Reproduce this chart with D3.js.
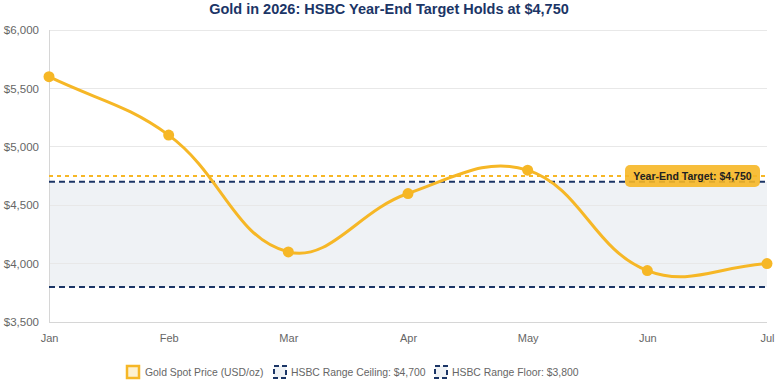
<!DOCTYPE html>
<html><head><meta charset="utf-8">
<script src="https://cdn.jsdelivr.net/npm/d3@7/dist/d3.min.js"></script>
<style>
html,body{margin:0;padding:0;background:#fff;}
svg{display:block;font-family:"Liberation Sans",Arial,Helvetica,sans-serif;}
</style></head>
<body><svg id="c" width="778" height="389"></svg>
<script>
const months = ["Jan","Feb","Mar","Apr","May","Jun","Jul"];
const goldPrice = [5600, 5100, 4100, 4600, 4800, 3940, 4000];
const rangeCeiling = 4700;
const rangeFloor = 3800;
const yearEndTarget = 4750;
const yTicks = [3500, 4000, 4500, 5000, 5500, 6000];
const titleText = "Gold in 2026: HSBC Year-End Target Holds at $4,750";
const targetLabel = "Year-End Target: $4,750";
const legendLabels = ["Gold Spot Price (USD/oz)", "HSBC Range Ceiling: $4,700", "HSBC Range Floor: $3,800"];

const W = 778, H = 389;
const m = {l: 49, r: 11, t: 30, b: 67};
const gold = "#f6b726", navy = "#1b3566";
const svg = d3.select("#c");
const x = d3.scalePoint().domain(months).range([m.l, W - m.r]);
const y = d3.scaleLinear().domain([3500, 6000]).range([H - m.b, m.t]);
const fmt = d3.format("$,");

// title
svg.append("text").attr("x", W/2).attr("y", 13.5).attr("text-anchor","middle")
  .attr("font-size", 14.5).attr("font-weight","bold").attr("fill", navy).text(titleText);

// band
svg.append("rect").attr("x", m.l).attr("width", W - m.r - m.l)
  .attr("y", y(rangeCeiling)).attr("height", y(rangeFloor) - y(rangeCeiling))
  .attr("fill", "#eff2f5");

// grid
svg.append("g").selectAll("line").data(yTicks).join("line")
  .attr("x1", m.l).attr("x2", W - m.r).attr("y1", d => y(d)).attr("y2", d => y(d))
  .attr("stroke", d => d === 3500 ? "#d6d6d6" : "#e8e8e8").attr("stroke-width", 1)
  .attr("shape-rendering","crispEdges");
svg.append("line").attr("x1", m.l).attr("x2", m.l).attr("y1", m.t).attr("y2", H - m.b)
  .attr("stroke", "#d6d6d6").attr("shape-rendering","crispEdges");

// axes
const yAxis = d3.axisLeft(y).tickValues(yTicks).tickFormat(fmt).tickSize(0).tickPadding(10);
const gy = svg.append("g").attr("transform", `translate(${m.l},0)`).call(yAxis);
gy.select(".domain").remove();
gy.selectAll("text").attr("font-size", 11.5).attr("fill", "#666").attr("font-family","Liberation Sans, Arial, sans-serif");
const xAxis = d3.axisBottom(x).tickSize(0).tickPadding(12);
const gx = svg.append("g").attr("transform", `translate(0,${H - m.b})`).call(xAxis);
gx.select(".domain").remove();
gx.selectAll("text").attr("font-size", 11).attr("fill", "#666").attr("font-family","Liberation Sans, Arial, sans-serif");

// ref lines
svg.append("line").attr("x1", m.l).attr("x2", W - m.r).attr("y1", y(rangeCeiling)).attr("y2", y(rangeCeiling))
  .attr("stroke", navy).attr("stroke-width", 2).attr("stroke-dasharray", "6,4");
svg.append("line").attr("x1", m.l).attr("x2", W - m.r).attr("y1", y(rangeFloor)).attr("y2", y(rangeFloor))
  .attr("stroke", navy).attr("stroke-width", 2).attr("stroke-dasharray", "6,4");
svg.append("line").attr("x1", m.l).attr("x2", W - m.r).attr("y1", y(yearEndTarget)).attr("y2", y(yearEndTarget))
  .attr("stroke", gold).attr("stroke-width", 2).attr("stroke-dasharray", "4,4");

// Chart.js-like spline (tension 0.4)
const pts = goldPrice.map((v, i) => [x(months[i]), y(v)]);
function splinePath(p, t) {
  const cps = p.map((cur, i) => {
    const prev = p[i-1] || cur, next = p[i+1] || cur;
    const d01 = Math.hypot(cur[0]-prev[0], cur[1]-prev[1]);
    const d12 = Math.hypot(next[0]-cur[0], next[1]-cur[1]);
    let s01 = d01/(d01+d12), s12 = d12/(d01+d12);
    if (isNaN(s01)) s01 = 0; if (isNaN(s12)) s12 = 0;
    const fa = t*s01, fb = t*s12;
    return {
      prev: [cur[0] - fa*(next[0]-prev[0]), cur[1] - fa*(next[1]-prev[1])],
      next: [cur[0] + fb*(next[0]-prev[0]), cur[1] + fb*(next[1]-prev[1])]
    };
  });
  const path = d3.path();
  path.moveTo(p[0][0], p[0][1]);
  for (let i = 1; i < p.length; i++) {
    const a = cps[i-1].next, b = cps[i].prev;
    path.bezierCurveTo(a[0], a[1], b[0], b[1], p[i][0], p[i][1]);
  }
  return path.toString();
}
svg.append("path").attr("d", splinePath(pts, 0.4)).attr("fill","none")
  .attr("stroke", gold).attr("stroke-width", 3);
svg.append("g").selectAll("circle").data(goldPrice).join("circle")
  .attr("cx", (d,i) => x(months[i])).attr("cy", d => y(d)).attr("r", 5.5).attr("fill", gold);

// target label
const ly = y(yearEndTarget);
svg.append("rect").attr("x", 625).attr("y", ly - 11).attr("width", 135).attr("height", 22)
  .attr("rx", 5).attr("fill", gold).attr("fill-opacity", 0.9);
svg.append("text").attr("x", 692.5).attr("y", ly + 4).attr("text-anchor","middle")
  .attr("font-size", 10.5).attr("font-weight","bold").attr("fill", "#222").text(targetLabel);

// legend
const lg = svg.append("g").attr("transform", `translate(0,372)`);
const legX = [126, 273, 434];
legendLabels.forEach((lab, i) => {
  const g = lg.append("g").attr("transform", `translate(${legX[i]},0)`);
  if (i === 0) {
    g.append("rect").attr("x", 1).attr("y", -6).attr("width", 12).attr("height", 12)
      .attr("fill", "#fdf1d0").attr("stroke", gold).attr("stroke-width", 2.5);
  } else {
    g.append("rect").attr("x", 1).attr("y", -6).attr("width", 12).attr("height", 12)
      .attr("fill", "#eff2f5").attr("stroke", navy).attr("stroke-width", 2).attr("stroke-dasharray", "5,3");
  }
  g.append("text").attr("x", i === 0 ? 19 : 18).attr("y", 4.2).attr("font-size", 10.4).attr("fill", "#666").text(lab);
});
</script></body></html>
